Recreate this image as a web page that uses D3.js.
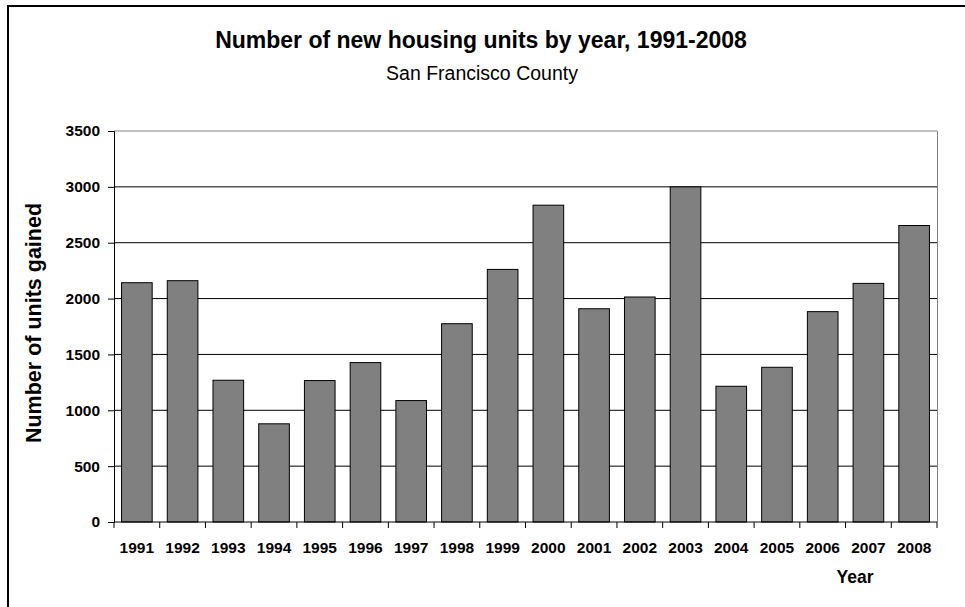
<!DOCTYPE html>
<html>
<head>
<meta charset="utf-8">
<script src="https://cdn.jsdelivr.net/npm/d3@7"></script>
<style>
  html, body { margin: 0; padding: 0; background: #fff; }
  svg { display: block; font-family: Arial, "Liberation Sans", sans-serif; }
</style>
</head>
<body>
<svg id="chart" width="965" height="607"></svg>
<script>
// New housing units gained per year, San Francisco County
const years = ["1991","1992","1993","1994","1995","1996","1997","1998","1999",
               "2000","2001","2002","2003","2004","2005","2006","2007","2008"];
const unitsGained = [2142, 2160, 1269, 879, 1266, 1427, 1087, 1775, 2261,
                     2836, 1909, 2014, 3000, 1215, 1385, 1883, 2136, 2654];
const yTicks = [0, 500, 1000, 1500, 2000, 2500, 3000, 3500];

const titleText = "Number of new housing units by year, 1991-2008";
const subtitleText = "San Francisco County";
const yAxisTitle = "Number of units gained";
const xAxisTitle = "Year";

const svg = d3.select("#chart");

// plot area bounds
const plot = { left: 114, right: 937, top: 131, bottom: 522 };

// outer chart frame
svg.append("rect")
  .attr("x", 8).attr("y", 6)
  .attr("width", 1000).attr("height", 700)
  .attr("fill", "#fff")
  .attr("stroke", "#000")
  .attr("stroke-width", 2);

const x = d3.scaleBand()
  .domain(years)
  .range([plot.left, plot.right])
  .paddingInner(0.33)
  .paddingOuter(0.165);

const y = d3.scaleLinear()
  .domain([0, 3500])
  .range([plot.bottom, plot.top]);

// horizontal gridlines
svg.append("g")
  .selectAll("line")
  .data(yTicks.filter(d => d > 0))
  .join("line")
  .attr("x1", plot.left).attr("x2", plot.right)
  .attr("y1", d => y(d)).attr("y2", d => y(d))
  .attr("stroke", d => d === 3500 ? "#808080" : "#000")
  .attr("stroke-width", 1);

// right border of plot area
svg.append("line")
  .attr("x1", plot.right + 0.5).attr("x2", plot.right + 0.5)
  .attr("y1", plot.top).attr("y2", plot.bottom)
  .attr("stroke", "#808080");

// bars
svg.append("g")
  .selectAll("rect")
  .data(unitsGained)
  .join("rect")
  .attr("x", (d, i) => x(years[i]))
  .attr("width", x.bandwidth())
  .attr("y", d => y(d))
  .attr("height", d => y(0) - y(d))
  .attr("fill", "#808080")
  .attr("stroke", "#000")
  .attr("stroke-width", 1);

// y axis
const yAxis = svg.append("g")
  .attr("transform", `translate(${plot.left},0)`)
  .call(d3.axisLeft(y).tickValues(yTicks).tickSize(6).tickPadding(8).tickFormat(d3.format("d")));
yAxis.select(".domain").attr("stroke", "#000");
yAxis.selectAll(".tick line").attr("stroke", "#000");
yAxis.selectAll("text")
  .attr("font-size", 15.5).attr("font-weight", "bold")
  .attr("font-family", "Arial, 'Liberation Sans', sans-serif")
  .attr("fill", "#000");

// x axis: ticks sit on the category boundaries
const boundaries = years.map(d => x(d) - x.step() * x.paddingInner() / 2)
  .concat([plot.right]);
boundaries[0] = plot.left;

svg.append("line")
  .attr("x1", plot.left).attr("x2", plot.right)
  .attr("y1", y(0)).attr("y2", y(0))
  .attr("stroke", "#000");

svg.append("g")
  .selectAll("line")
  .data(boundaries)
  .join("line")
  .attr("x1", d => d).attr("x2", d => d)
  .attr("y1", y(0)).attr("y2", y(0) + 6)
  .attr("stroke", "#000");

svg.append("g")
  .selectAll("text")
  .data(years)
  .join("text")
  .attr("x", d => x(d) + x.bandwidth() / 2)
  .attr("y", 553)
  .attr("text-anchor", "middle")
  .attr("font-size", 15.5)
  .attr("font-weight", "bold")
  .attr("fill", "#000")
  .text(d => d);

// titles
svg.append("text")
  .attr("x", 481).attr("y", 48)
  .attr("text-anchor", "middle")
  .attr("font-size", 23)
  .attr("font-weight", "bold")
  .text(titleText);

svg.append("text")
  .attr("x", 482).attr("y", 80)
  .attr("text-anchor", "middle")
  .attr("font-size", 19.5)
  .text(subtitleText);

svg.append("text")
  .attr("transform", "translate(41,323) rotate(-90)")
  .attr("text-anchor", "middle")
  .attr("font-size", 21.5)
  .attr("font-weight", "bold")
  .text(yAxisTitle);

svg.append("text")
  .attr("x", 855).attr("y", 583)
  .attr("text-anchor", "middle")
  .attr("font-size", 17.5)
  .attr("font-weight", "bold")
  .text(xAxisTitle);
</script>
</body>
</html>
